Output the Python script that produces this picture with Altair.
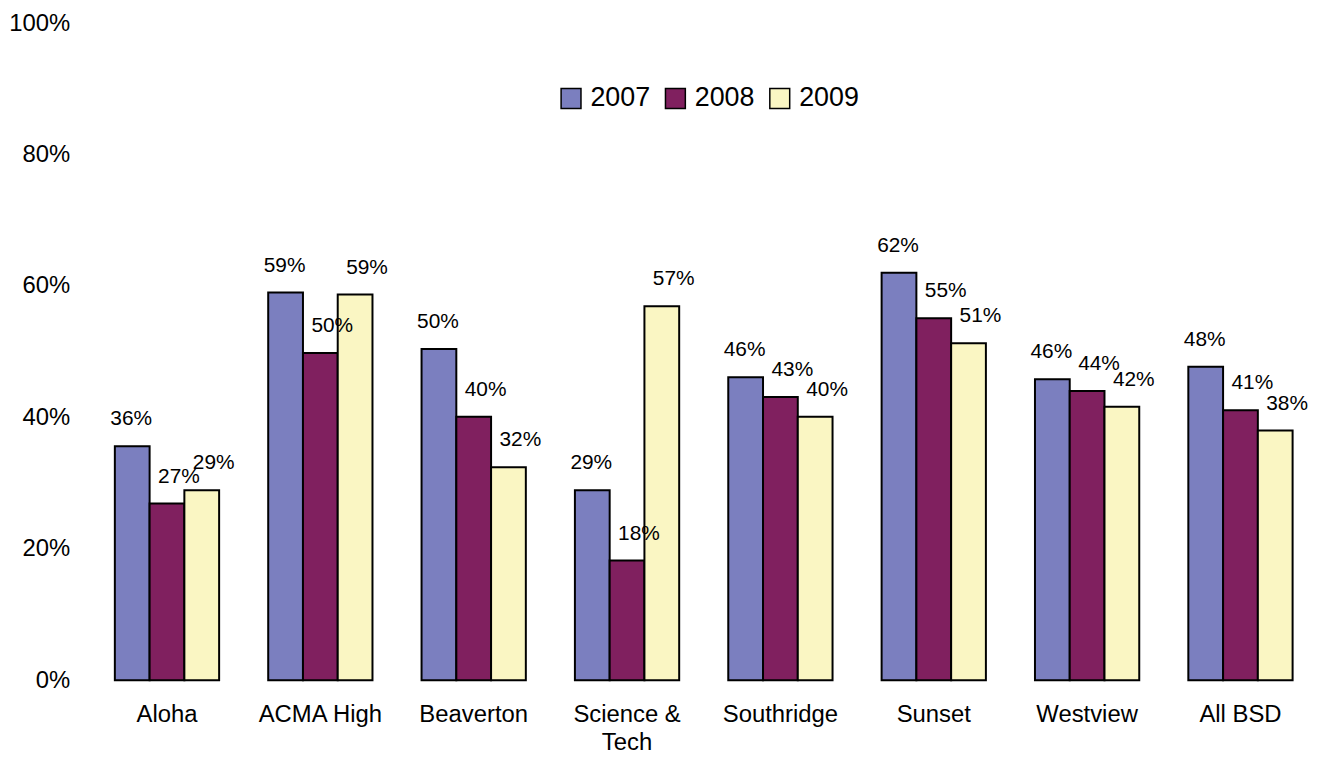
import altair as alt
import pandas as pd

schools = ["Aloha", "ACMA High", "Beaverton", "Science & Tech", "Southridge", "Sunset", "Westview", "All BSD"]
years = ["2007", "2008", "2009"]
v2007 = [0.356, 0.590, 0.504, 0.289, 0.461, 0.620, 0.458, 0.477]
v2008 = [0.269, 0.498, 0.401, 0.182, 0.431, 0.551, 0.440, 0.411]
v2009 = [0.289, 0.587, 0.324, 0.569, 0.401, 0.513, 0.416, 0.380]
colors = ["#7B7FBF", "#80205F", "#FAF6C3"]
label_shift = {"2007": -1, "2008": 12, "2009": 12}

rows = []
for i, s in enumerate(schools):
    for y, vals in zip(years, [v2007, v2008, v2009]):
        rows.append({"school": s, "year": y, "value": vals[i]})
df = pd.DataFrame(rows)

FONT = "Liberation Sans"

x_enc = alt.X(
    "school:N",
    sort=schools,
    title=None,
    scale=alt.Scale(paddingInner=0.32, paddingOuter=0.0616),
    axis=alt.Axis(
        labelAngle=0,
        labelFontSize=24,
        labelFont=FONT,
        labelColor="black",
        labelPadding=23,
        labelLineHeight=28,
        labelBaseline="top",
        ticks=False,
        tickSize=0,
        domain=False,
        grid=False,
        labelExpr="datum.label == 'Science & Tech' ? ['Science &', 'Tech'] : datum.label",
    ),
)
xoff = alt.XOffset("year:N", sort=years, scale=alt.Scale(paddingInner=0, paddingOuter=0))
y_enc = alt.Y(
    "value:Q",
    title=None,
    scale=alt.Scale(domain=[0, 1], nice=False),
    axis=alt.Axis(
        values=[0, 0.2, 0.4, 0.6, 0.8, 1.0],
        format=".0%",
        labelFontSize=24,
        labelFont=FONT,
        labelColor="black",
        labelPadding=36,
        ticks=False,
        tickSize=0,
        domain=False,
        grid=False,
    ),
)

bars = alt.Chart(df).mark_bar(stroke="black", strokeWidth=2).encode(
    x=x_enc,
    xOffset=xoff,
    y=y_enc,
    color=alt.Color(
        "year:N",
        sort=years,
        scale=alt.Scale(domain=years, range=colors),
        legend=alt.Legend(
            title=None,
            orient="none",
            direction="horizontal",
            legendX=455,
            legendY=62,
            symbolType="square",
            symbolSize=400,
            symbolStrokeColor="black",
            symbolStrokeWidth=1.5,
            symbolOpacity=1,
            labelFontSize=27,
            labelFont=FONT,
            labelColor="black",
            labelOffset=6,
            columnPadding=11,
            padding=0,
        ),
    ),
)

texts = []
for yr in years:
    t = alt.Chart(df).transform_filter(alt.datum.year == yr).mark_text(
        baseline="bottom", dy=-17, dx=label_shift[yr], fontSize=21, font=FONT, color="black"
    ).encode(
        x=alt.X("school:N", sort=schools),
        xOffset=alt.XOffset("year:N", sort=years),
        y=alt.Y("value:Q"),
        text=alt.Text("value:Q", format=".0%"),
    )
    texts.append(t)

chart = alt.layer(bars, *texts).properties(
    width=1204,
    height=661,
    autosize=alt.AutoSizeParams(type="none"),
    padding={"left": 98, "top": 13, "right": 8, "bottom": 72},
).configure(font=FONT).configure_view(strokeWidth=0, stroke=None)

chart.save("out.html", embed_options={"renderer": "svg", "actions": False})
